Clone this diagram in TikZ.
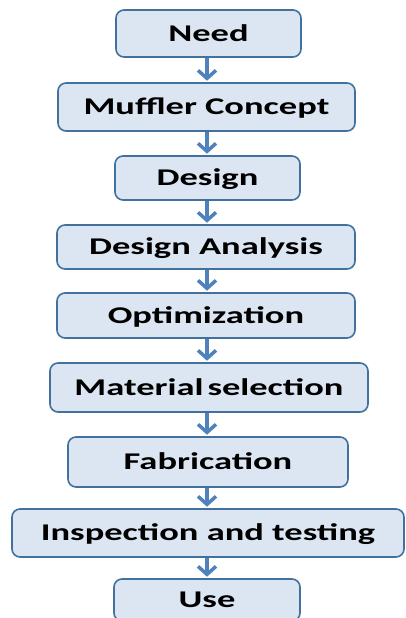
\documentclass[tikz,border=0pt]{standalone}
\usepackage{fontspec}
\newfontfamily\boxfont[FakeStretch=1.52]{Carlito}
\usetikzlibrary{arrows.meta}
\definecolor{boxfill}{HTML}{DCE6F2}
\definecolor{boxline}{HTML}{41719C}
\definecolor{arrowblue}{HTML}{4F81BD}
\tikzset{
  stepbox/.style={draw=boxline, line width=1.6pt, fill=boxfill, rounded corners=8pt,
    inner sep=0pt, text height=15.5pt, text depth=0pt,
    font=\boxfont\bfseries\fontsize{24}{27}\selectfont},
  flow/.style={draw=arrowblue, line width=3.5pt, -{Straight Barb[length=8pt,width=18pt,line width=3.5pt]}, shorten >=1.5pt}
}
\begin{document}
\begin{tikzpicture}[x=1pt,y=-1pt]
\clip (0,0) rectangle (405,618);
\useasboundingbox (0,0) rectangle (405,618);
\node[stepbox, minimum width=185pt, minimum height=47pt] (need) at (208.5,33.5) {Need};
\node[stepbox, minimum width=297pt, minimum height=48pt] (muffler) at (206.5,107) {Muffler Concept};
\node[stepbox, minimum width=185pt, minimum height=44pt] (design) at (207.5,178) {Design};
\node[stepbox, minimum width=298pt, minimum height=44pt] (analysis) at (206,247) {Design Analysis};
\node[stepbox, minimum width=298pt, minimum height=45pt] (optim) at (206,315.5) {Optimization};
\node[stepbox, minimum width=318pt, minimum height=49pt] (material) at (209,387.5) {Material\,selection};
\node[stepbox, minimum width=280pt, minimum height=50pt] (fabric) at (208,462) {Fabrication};
\node[stepbox, minimum width=392pt, minimum height=48pt] (inspect) at (208,533) {Inspection and testing};
\node[stepbox, minimum width=186pt, minimum height=42pt] (use) at (207,600) {Use};
\foreach \a/\b in {need/muffler, muffler/design, design/analysis, analysis/optim, optim/material, material/fabric, fabric/inspect, inspect/use}
  \draw[flow] (\a.south -| 207,0) -- (\b.north -| 207,0);
\end{tikzpicture}
\end{document}
